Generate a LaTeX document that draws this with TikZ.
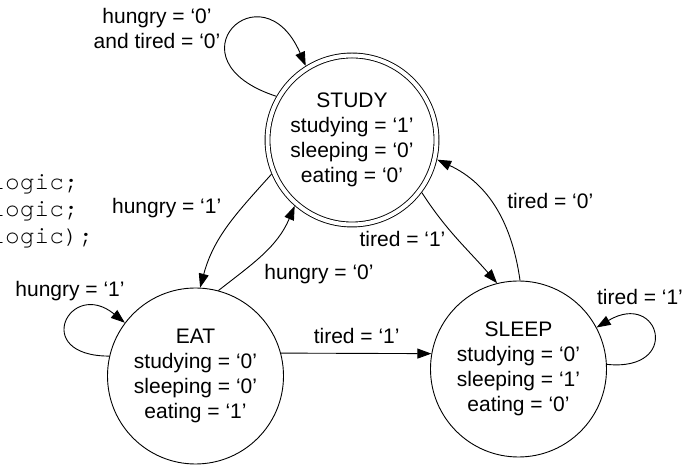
\documentclass[tikz,border=0pt]{standalone}
\usepackage{fontspec}
\setmainfont{Liberation Sans}
\setmonofont{texgyrecursor-regular.otf}
\usetikzlibrary{arrows.meta}
\newcommand\lblfont{\fontsize{21pt}{25pt}\selectfont}
\newcommand\codefont{\ttfamily\fontsize{24.5pt}{27pt}\selectfont}
\begin{document}
\begin{tikzpicture}[x=1pt,y=1pt,line width=0.9pt,
  statebox/.style={circle,draw,minimum size=176pt,inner sep=0pt,align=center,font=\lblfont},
  startbox/.style={circle,draw,double,double distance=4pt,minimum size=169pt,inner sep=0pt,outer sep=2.9pt,align=center,font=\lblfont},
  lbl/.style={inner sep=0pt,font=\lblfont,anchor=base},
  codetxt/.style={inner sep=0pt,font=\codefont,anchor=base west},
  arr/.style={-{Triangle[length=14pt,width=10pt]}}]
\useasboundingbox (0,0) rectangle (699,465);
% code fragments cut at the left edge
\node[codetxt] (c1) at (-10,275) {logic;};
\node[codetxt] (c2) at (-10,248.3) {logic;};
\node[codetxt] (c3) at (-10,221.7) {logic);};
% states
\node[startbox] (study) at (352,325) {STUDY\\studying = ‘1’\\sleeping = ‘0’\\eating = ‘0’};
\node[statebox] (eat) at (195.5,89) {EAT\\studying = ‘0’\\sleeping = ‘0’\\eating = ‘1’};
\node[statebox] (sleep) at (518.5,96) {SLEEP\\studying = ‘0’\\sleeping = ‘1’\\eating = ‘0’};
% transitions
\draw[arr] (study.150) .. controls (165,405) and (262,500) .. (study.122);
\draw[arr] (eat.167) .. controls (30,109) and (70,187) .. (eat.143);
\draw[arr] (sleep.3) .. controls (682,93) and (660,175) .. (sleep.28);
\draw[arr] (study.203) to[out=228,in=75] (eat.87);
\draw[arr] (eat.75) to[out=38,in=247] (study.229);
\draw[arr] (study.323) to[out=303,in=131] (sleep.104);
\draw[arr] (sleep.89) to[out=98,in=335] (study.347);
\draw[arr] (eat.15) -- (sleep.170);
% labels
\node[lbl,anchor=center,align=center] (l1) at (157,436.7) {hungry = ‘0’\\and tired = ‘0’};
\node[lbl] (l2) at (166.7,251.7) {hungry = ‘1’};
\node[lbl] (l3) at (70,168.3) {hungry = ‘1’};
\node[lbl] (l4) at (319,185) {hungry = ‘0’};
\node[lbl] (l5) at (402.5,218.3) {tired = ‘1’};
\node[lbl] (l6) at (550.3,256.7) {tired = ‘0’};
\node[lbl] (l7) at (640,160.7) {tired = ‘1’};
\node[lbl] (l8) at (356.7,121.7) {tired = ‘1’};
\end{tikzpicture}
\end{document}
